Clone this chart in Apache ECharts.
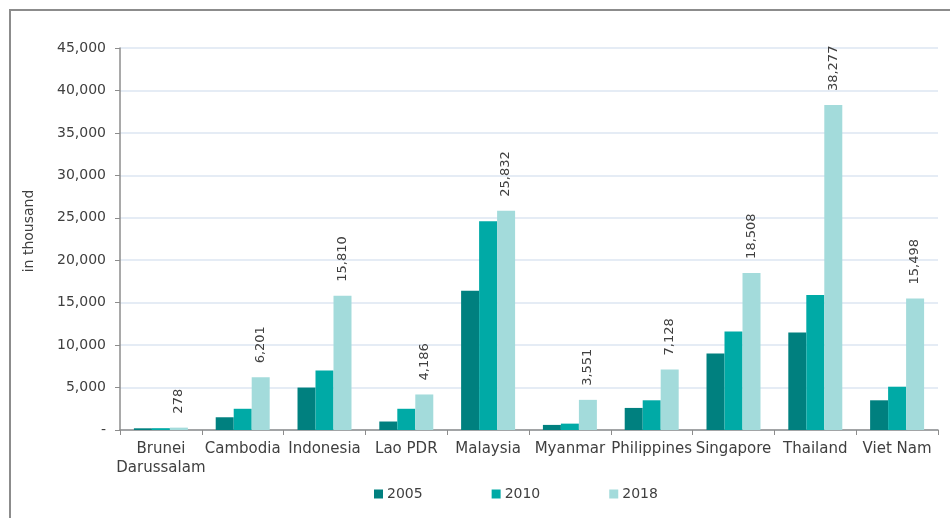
<!DOCTYPE html>
<html>
<head>
<meta charset="utf-8">
<script src="https://cdn.jsdelivr.net/npm/echarts@6/dist/echarts.min.js"></script>
<style>
  html, body { margin: 0; padding: 0; background: #fff; }
  #chart { width: 950px; height: 518px; }
</style>
</head>
<body>
<div id="chart"></div>
<script>
const categories = ["Brunei\nDarussalam", "Cambodia", "Indonesia", "Lao PDR", "Malaysia", "Myanmar", "Philippines", "Singapore", "Thailand", "Viet Nam"]
const years = ["2005", "2010", "2018"]
const values2005 = [200, 1500, 5000, 1000, 16400, 600, 2600, 9000, 11500, 3500]
const values2010 = [214, 2500, 7000, 2500, 24600, 750, 3500, 11600, 15900, 5100]
const values2018 = [278, 6201, 15810, 4186, 25832, 3551, 7128, 18508, 38277, 15498]
const colors = ["#00807f", "#00aaa6", "#a3dbdb"]

const font = "'DejaVu Sans', 'Noto Sans', sans-serif"
const fmt = (v) => (v === 0 ? "-" : v.toLocaleString("en-US"))

const chart = echarts.init(document.getElementById("chart"))

const barSeries = (name, data, color, withLabel) => ({
  name: name,
  type: "bar",
  data: data,
  itemStyle: { color: color },
  barGap: "0%",
  barCategoryGap: "34%",
  label: withLabel
    ? {
        show: true,
        position: "top",
        rotate: 90,
        align: "left",
        verticalAlign: "middle",
        distance: 14,
        color: "#404040",
        fontFamily: font,
        fontSize: 13,
        formatter: (p) => fmt(p.value),
      }
    : { show: false },
})

let option = {
  animation: false,
  textStyle: { fontFamily: font },
  graphic: [
    {
      type: "rect",
      shape: { x: 10, y: 10, width: 980, height: 540 },
      style: { fill: "none", stroke: "#8c8c8c", lineWidth: 2 },
      silent: true,
    },
  ],
  legend: {
    bottom: 12,
    left: 369,
    itemWidth: 9,
    itemHeight: 9,
    itemGap: 69,
    icon: "rect",
    textStyle: { color: "#404040", fontSize: 14, fontFamily: font, padding: [0, 0, 0, -1] },
    data: years,
  },
  grid: {
    left: 120,
    right: 12,
    top: 48,
    bottom: 88,
  },
  xAxis: {
    type: "category",
    data: categories,
    axisLine: { lineStyle: { color: "#8c8c8c", width: 1.5 } },
    axisTick: { show: true, length: 5, alignWithLabel: false, lineStyle: { color: "#8c8c8c" } },
    axisLabel: { color: "#404040", fontSize: 15, margin: 10, lineHeight: 19, interval: 0 },
  },
  yAxis: {
    type: "value",
    min: 0,
    max: 45000,
    interval: 5000,
    name: "in thousand",
    nameLocation: "middle",
    nameGap: 84,
    nameTextStyle: { color: "#404040", fontSize: 14, padding: [0, 0, 0, 16] },
    axisLine: { show: true, lineStyle: { color: "#8c8c8c", width: 1.5 } },
    axisTick: { show: true, length: 5, lineStyle: { color: "#8c8c8c" } },
    axisLabel: { color: "#404040", fontSize: 14, margin: 14, formatter: fmt },
    splitLine: { lineStyle: { color: "#dce6f2", width: 1.5 } },
  },
  series: [
    barSeries(years[0], values2005, colors[0], false),
    barSeries(years[1], values2010, colors[1], false),
    barSeries(years[2], values2018, colors[2], true),
  ],
}

chart.setOption(option)
window.addEventListener("resize", () => {
  chart.resize()
})
</script>
</body>
</html>
